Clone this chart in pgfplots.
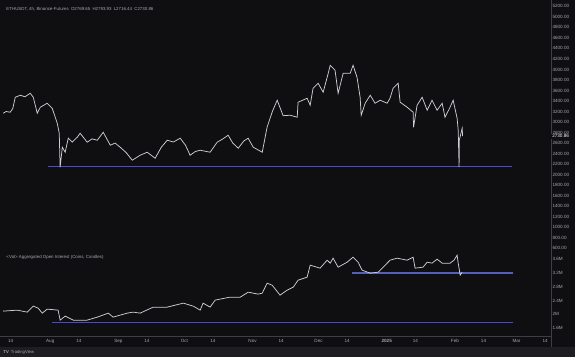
\documentclass[border=0pt]{standalone}
\usepackage{fontspec}
\setmainfont{Liberation Sans}
\usepackage{pgfplots}
\pgfplotsset{compat=1.18}
\definecolor{bg}{RGB}{15,15,18}
\definecolor{bgbot}{RGB}{30,30,34}
\definecolor{sep}{RGB}{62,62,68}
\definecolor{txt}{RGB}{165,167,175}
\definecolor{pline}{RGB}{205,205,210}
\definecolor{blueln}{RGB}{70,72,215}
\definecolor{blueup}{HTML}{4A4CD8}
\definecolor{blueln2}{RGB}{85,95,185}

\pgfplotstableread{
d p
-21.4 3167
-20.0 3200
-18.2 3186
-17.0 3260
-15.9 3471
-13.6 3509
-11.5 3480
-9.1 3547
-7.7 3471
-5.9 3167
-4.5 3281
-1.4 3357
0.9 3262
3.2 2977
4.1 2787
4.5 2141
5.5 2521
6.8 2426
8.2 2692
10.0 2620
12.3 2711
13.6 2787
16.8 2616
19.0 2680
21.4 2654
24.1 2806
27.3 2559
29.5 2600
31.8 2521
34.5 2420
37.3 2274
40.9 2369
44.1 2426
47.7 2312
50.5 2520
53.2 2654
56.0 2620
59.1 2692
61.5 2560
63.6 2369
66.0 2440
68.2 2464
72.7 2426
75.9 2616
78.5 2680
80.9 2749
83.0 2600
85.5 2502
88.0 2640
90.0 2692
92.3 2521
96.4 2426
98.6 2901
101.0 3200
103.2 3414
105.9 3120
109.1 3129
112.3 3091
112.7 3376
116.8 3452
118.2 3319
119.5 3642
121.8 3737
124.1 3566
126.4 3927
127.3 4079
129.5 3984
130.9 3547
133.2 3927
136.4 3927
137.7 4079
139.5 3851
140.9 3471
141.4 3129
143.2 3357
145.5 3509
147.7 3357
150.0 3414
153.2 3357
154.5 3452
155.9 3642
158.2 3737
159.1 3376
162.3 3281
165.0 3186
165.2 2901
166.8 3319
169.1 3471
171.4 3224
173.6 3414
175.9 3224
178.2 3357
179.5 3091
181.8 3281
183.2 3414
185.0 3072
185.5 2844
185.9 2141
186.0 2654
187.3 2882
187.5 2731
}\price

\pgfplotstableread{
d oi
-21.4 2.093
-15.0 2.122
-10.5 2.064
-7.7 2.238
-5.5 2.180
-3.6 2.035
-1.4 2.151
3.6 2.122
4.5 1.832
6.8 1.948
10.5 1.832
16.8 1.832
21.4 1.919
26.4 2.035
28.6 1.919
35.0 2.035
37.7 2.064
40.9 2.035
46.8 2.209
53.2 2.209
60.5 2.325
65.0 2.238
68.2 2.122
69.5 2.325
72.7 2.209
75.0 2.412
81.8 2.499
86.4 2.499
90.0 2.643
94.5 2.586
96.4 2.614
98.6 2.904
100.9 2.846
104.5 2.557
107.7 2.701
110.5 2.788
112.7 2.991
116.8 3.078
118.2 3.426
122.7 3.339
125.9 3.571
127.3 3.484
128.6 3.629
130.9 3.368
135.0 3.513
137.7 3.658
140.0 3.513
141.8 3.281
145.5 3.194
149.1 3.223
151.4 3.368
154.5 3.571
157.7 3.629
162.3 3.571
165.0 3.658
165.9 3.339
169.5 3.368
171.4 3.513
173.6 3.484
175.9 3.600
178.2 3.484
181.8 3.484
183.6 3.571
185.0 3.716
185.5 3.484
186.4 3.136
187.3 3.223
}\oi

\begin{document}
\begin{tikzpicture}[x=1pt,y=1pt]
\fill[bg] (0,0) rectangle (575,357);
\fill[bgbot] (0,0) rectangle (575,10);
\draw[sep, line width=0.6pt] (0,21) -- (551,21);
\draw[sep, line width=0.6pt] (551,10) -- (551,357);

\pgfplotsset{every axis/.append style={
  scale only axis, anchor=south west, width=551pt,
  xmin=-22.7, xmax=227.7,
  axis line style={draw=none}, tick style={draw=none},
  major tick length=0pt,
  clip mode=individual,
  /pgf/number format/assume math mode=true,
  yticklabel pos=right,
  y tick label style={anchor=west, xshift=0.8pt, inner sep=0.5pt,
     font=\fontsize{4.6}{5}\selectfont, text=txt},
}}

\begin{axis}[at={(0pt,105pt)}, height=252pt,
  ymin=526, ymax=5314,
  xtick=\empty,
  ytick={600,800,1000,1200,1400,1600,1800,2000,2200,2400,2600,2800,3000,3200,3400,3600,3800,4000,4200,4400,4600,4800,5000,5200},
  y tick label style={/pgf/number format/fixed, /pgf/number format/fixed zerofill,
     /pgf/number format/precision=2, /pgf/number format/1000 sep={}},
]
\addplot[color=blueup, line width=1.2pt, no marks, sharp plot] coordinates {(-0.9,2150) (210,2150)};
\addplot[draw=pline, line width=0.75pt, no marks] table[x=d, y=p] {\price};
\coordinate (lastp) at (axis cs:227.7,2730.86);
\end{axis}
\node[anchor=west, fill=bg, text=white, inner sep=0.8pt, font=\fontsize{4.6}{5}\selectfont]
  at (lastp) {\hspace{0.3pt}2730.86};

\begin{axis}[at={(0pt,21pt)}, height=84pt,
  ymin=1.368, ymax=3.803,
  ytick={1.6,2,2.4,2.8,3.2,3.6},
  yticklabels={1.6M,2M,2.4M,2.8M,3.2M,3.6M},
  xtick={-18,0,13,31,44,61,74,92,105,122,135,153,166,184,197,212,225},
  xticklabels={14,Aug,14,Sep,14,Oct,14,Nov,14,Dec,14,\textbf{2025},14,Feb,14,Mar,14},
  x tick label style={anchor=center, yshift=-5pt, inner sep=0pt,
     font=\fontsize{4.6}{5}\selectfont, text=txt},
]
\addplot[draw=blueln, line width=1.1pt, no marks] coordinates {(0.9,1.774) (210.5,1.774)};
\addplot[draw=blueln2, line width=1.4pt, no marks] coordinates {(137.3,3.194) (210.5,3.194)};
\addplot[draw=pline, line width=0.75pt, no marks] table[x=d, y=oi] {\oi};
\end{axis}

\node[anchor=west, text=txt, font=\fontsize{4.4}{5}\selectfont, inner sep=0pt]
  at (6,348) {ETHUSDT, 4h, Binance-Futures\enspace O2769.65\enspace H2793.93\enspace L2716.44\enspace C2730.86};
\node[anchor=west, text=txt, font=\fontsize{4.4}{5}\selectfont, inner sep=0pt]
  at (6,100) {<Vol> Aggregated Open Interest (Coins, Candles)};
\node[anchor=west, text=txt, font=\fontsize{4.2}{5}\selectfont, inner sep=0pt]
  at (3,5) {\textbf{TV}\enspace TradingView};
\end{tikzpicture}
\end{document}
